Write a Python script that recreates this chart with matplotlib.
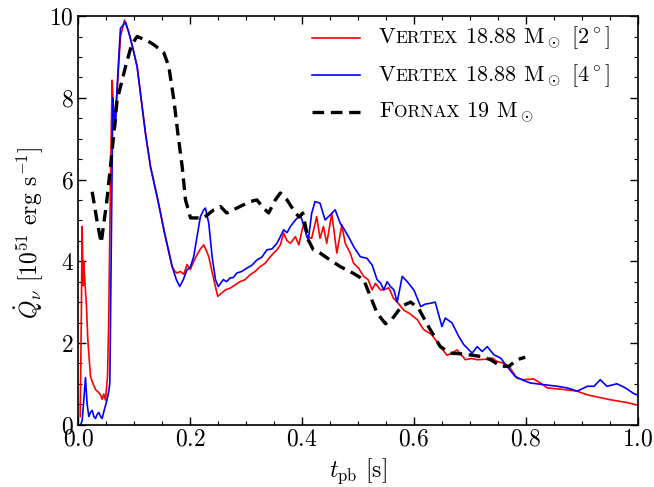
import numpy as np
import matplotlib
matplotlib.use('Agg')
import matplotlib.pyplot as plt
from matplotlib.ticker import AutoMinorLocator, MultipleLocator
from matplotlib.offsetbox import (AnchoredOffsetbox, DrawingArea, HPacker,
                                  TextArea, VPacker)
from matplotlib.lines import Line2D

plt.rcParams['font.family'] = 'serif'
plt.rcParams['font.serif'] = ['cmr10']
plt.rcParams['mathtext.fontset'] = 'cm'
plt.rcParams['axes.formatter.use_mathtext'] = True

##########
# Inputs #
##########

# Vertex 18.88 Msun, 2 degree
t_v2 = [0.003, 0.005, 0.0065, 0.0085, 0.0095, 0.011, 0.0143, 0.0167, 0.0215, 0.026,
        0.0304, 0.035, 0.0394, 0.0425, 0.0453, 0.0483, 0.052, 0.054, 0.0572, 0.0602,
        0.062, 0.0644, 0.0692, 0.0751, 0.0823, 0.09, 0.0975, 0.1049, 0.1198, 0.1288,
        0.1419, 0.1539, 0.1675, 0.1725, 0.1765, 0.182, 0.1884, 0.194, 0.2, 0.2063,
        0.212, 0.218, 0.224, 0.229, 0.233, 0.242, 0.249, 0.256, 0.263, 0.271,
        0.28, 0.289, 0.298, 0.307, 0.316, 0.325, 0.334, 0.343, 0.349, 0.355,
        0.361, 0.367, 0.373, 0.379, 0.388, 0.394, 0.40, 0.404, 0.408, 0.417,
        0.426, 0.432, 0.438, 0.444, 0.453, 0.462, 0.471, 0.477, 0.486, 0.492,
        0.501, 0.51, 0.518, 0.525, 0.531, 0.54, 0.546, 0.555, 0.563, 0.57,
        0.582, 0.591, 0.606, 0.617, 0.632, 0.647, 0.659, 0.668, 0.677, 0.692,
        0.703, 0.713, 0.727, 0.740, 0.748, 0.758, 0.770, 0.778, 0.784, 0.796,
        0.814, 0.826, 0.838, 0.853, 0.868, 0.892, 0.910, 0.927, 0.951, 0.981, 0.999]
q_v2 = [0.2, 2.5, 4.85, 3.4, 4.0, 3.6, 2.9, 2.08, 1.18, 1.0,
        0.86, 0.8, 0.73, 0.62, 0.75, 0.6, 1.2, 2.5, 6.0, 8.43,
        7.9, 7.38, 8.2, 9.5, 9.9, 9.6, 9.2, 8.76, 7.13, 6.31,
        5.5, 4.69, 3.87, 3.75, 3.71, 3.75, 3.68, 3.92, 3.8, 4.0,
        4.16, 4.3, 4.4, 4.25, 4.11, 3.55, 3.14, 3.22, 3.3, 3.34,
        3.42, 3.5, 3.55, 3.67, 3.75, 3.87, 3.95, 4.11, 4.2, 4.28,
        4.4, 4.69, 4.5, 4.44, 4.6, 4.4, 4.77, 4.93, 4.6, 4.56,
        5.09, 4.56, 4.85, 4.44, 5.17, 4.2, 4.89, 4.44, 4.2, 3.95,
        3.83, 3.63, 3.55, 3.3, 3.46, 3.3, 3.3, 3.35, 3.1, 3.0,
        2.8, 2.73, 2.57, 2.33, 2.2, 1.91, 1.7, 1.75, 1.83, 1.59,
        1.62, 1.59, 1.6, 1.63, 1.55, 1.51, 1.43, 1.26, 1.14, 1.1,
        1.12, 1.02, 0.9, 0.88, 0.86, 0.82, 0.73, 0.68, 0.61, 0.54, 0.48]

# Vertex 18.88 Msun, 4 degree
t_v4 = [0.004, 0.0066, 0.0095, 0.0125, 0.0155, 0.0185, 0.0215, 0.0245, 0.0275, 0.0304,
        0.0334, 0.0364, 0.0394, 0.0423, 0.0453, 0.05, 0.054, 0.0561, 0.0584, 0.0614,
        0.0635, 0.0662, 0.07, 0.0751, 0.0841, 0.09, 0.0975, 0.1049, 0.1198, 0.1288,
        0.1419, 0.1539, 0.1675, 0.175, 0.181, 0.1875, 0.194, 0.2, 0.206, 0.212,
        0.218, 0.224, 0.227, 0.233, 0.239, 0.245, 0.25, 0.259, 0.265, 0.271,
        0.277, 0.283, 0.292, 0.301, 0.31, 0.319, 0.328, 0.337, 0.346, 0.355,
        0.361, 0.367, 0.373, 0.379, 0.388, 0.397, 0.405, 0.411, 0.417, 0.423,
        0.432, 0.441, 0.45, 0.459, 0.468, 0.474, 0.483, 0.492, 0.504, 0.516,
        0.525, 0.534, 0.540, 0.546, 0.552, 0.558, 0.564, 0.570, 0.579, 0.588,
        0.600, 0.612, 0.62, 0.629, 0.638, 0.650, 0.656, 0.668, 0.680, 0.689,
        0.704, 0.713, 0.722, 0.731, 0.743, 0.755, 0.766, 0.781, 0.793, 0.808,
        0.832, 0.856, 0.874, 0.892, 0.910, 0.922, 0.933, 0.945, 0.963, 0.978, 0.993, 0.999]
q_v4 = [0.0, 0.1, 0.6, 1.15, 0.5, 0.2, 0.3, 0.35, 0.2, 0.15,
        0.25, 0.3, 0.2, 0.15, 0.32, 0.55, 0.8, 1.04, 4.0, 8.0,
        7.6, 7.3, 8.5, 9.7, 9.85, 9.6, 9.2, 8.76, 7.13, 6.31,
        5.5, 4.69, 3.87, 3.55, 3.38, 3.55, 3.79, 3.85, 4.11, 4.6,
        5.09, 5.26, 5.3, 4.93, 4.11, 3.55, 3.38, 3.55, 3.5, 3.59,
        3.6, 3.71, 3.75, 3.83, 3.9, 4.03, 4.1, 4.28, 4.3, 4.44,
        4.6, 4.77, 4.7, 4.85, 5.01, 5.13, 4.77, 4.52, 5.17, 5.46,
        5.42, 5.01, 5.13, 5.26, 4.93, 4.81, 4.6, 4.36, 4.11, 4.07,
        3.91, 3.55, 3.47, 3.3, 3.5, 3.38, 3.3, 3.0, 3.63, 3.5,
        3.29, 2.89, 2.95, 2.97, 3.0, 2.4, 2.61, 2.49, 2.16, 1.96,
        1.75, 1.91, 1.79, 1.91, 1.71, 1.63, 1.43, 1.18, 1.1, 1.02,
        0.98, 0.94, 0.9, 0.82, 0.94, 0.94, 1.1, 0.94, 1.0, 0.9, 0.76, 0.73]

# Fornax 19 Msun
t_fx = [0.0245, 0.033, 0.0406, 0.05, 0.0572, 0.0692, 0.0841, 0.095, 0.1049, 0.1228,
        0.1348, 0.1527, 0.1616, 0.1706, 0.1777, 0.1855, 0.1914, 0.2004, 0.224, 0.242,
        0.254, 0.265, 0.283, 0.307, 0.319, 0.331, 0.34, 0.352, 0.361, 0.373,
        0.388, 0.395, 0.401, 0.411, 0.42, 0.432, 0.45, 0.468, 0.492, 0.51,
        0.522, 0.534, 0.549, 0.56, 0.578, 0.594, 0.608, 0.626, 0.647, 0.665,
        0.689, 0.719, 0.737, 0.755, 0.770, 0.784, 0.799]
q_fx = [5.7, 5.0, 4.45, 5.4, 6.31, 7.95, 8.76, 9.3, 9.5, 9.4,
        9.3, 9.1, 8.76, 7.95, 7.13, 6.31, 5.5, 5.06, 5.06, 5.26,
        5.34, 5.18, 5.3, 5.46, 5.5, 5.3, 5.18, 5.5, 5.67, 5.5,
        5.18, 5.08, 5.18, 4.52, 4.28, 4.2, 4.03, 3.87, 3.7, 3.55,
        3.14, 2.73, 2.47, 2.57, 2.9, 3.0, 2.85, 2.4, 1.91, 1.75,
        1.73, 1.67, 1.59, 1.43, 1.43, 1.59, 1.65]

#############
# Make plot #
#############

fig = plt.figure(figsize=(6.54,4.87), dpi=100)
ax = fig.add_axes([0.120, 0.128, 0.855, 0.839])

ax.plot(t_v2, q_v2, color='r', lw=1.2)
ax.plot(t_v4, q_v4, color='b', lw=1.2)
ax.plot(t_fx, q_fx, color='k', lw=2.4, dashes=(3.5,2))

ax.set_xlim([0,1])
ax.set_ylim([0,10])
ax.xaxis.set_major_locator(MultipleLocator(0.2))
ax.yaxis.set_major_locator(MultipleLocator(2))
ax.xaxis.set_minor_locator(AutoMinorLocator(4))
ax.yaxis.set_minor_locator(AutoMinorLocator(4))
ax.tick_params('both', which='both', direction='in', top=True, right=True, labelsize=17)
ax.tick_params('both', length=6, width=1.0, which='major')
ax.tick_params('both', length=3, width=0.8, which='minor')
ax.tick_params('x', pad=3)
for s in ax.spines.values():
  s.set_linewidth(1.2)

ax.set_xlabel(r'$t_\mathrm{pb}$ [s]', fontsize=17, labelpad=4)
ax.set_ylabel(r'$\dot{Q}_\nu$ [$10^{51}$ erg s$^{-1}$]', fontsize=17)
ax.yaxis.set_label_coords(-0.058, 0.47)

# Legend with small caps code names
def legend_row(color, lw, dashes, word, rest):
  da = DrawingArea(34.5, 10, 0, 0)
  ln = Line2D([0,34.5], [5,5], color=color, lw=lw)
  if dashes is not None:
    ln.set_dashes(dashes)
  da.add_artist(ln)
  parts = [TextArea(word[0], textprops=dict(size=16)),
           TextArea(word[1:].upper(), textprops=dict(size=12.5)),
           TextArea(rest, textprops=dict(size=16))]
  txt = HPacker(children=parts, align='baseline', pad=0, sep=0)
  return HPacker(children=[da, txt], align='center', pad=0, sep=14)

rows = [legend_row('r', 1.2, None, 'Vertex', r' 18.88 $\mathrm{M}_\odot$ [$2^\circ$]'),
        legend_row('b', 1.2, None, 'Vertex', r' 18.88 $\mathrm{M}_\odot$ [$4^\circ$]'),
        legend_row('k', 2.4, (3.5,2), 'Fornax', r' 19 $\mathrm{M}_\odot$')]
box = VPacker(children=rows, align='left', pad=0, sep=8)
anch = AnchoredOffsetbox(loc='upper left', child=box, pad=0, borderpad=0, frameon=False,
                         bbox_to_anchor=(0.417, 0.98), bbox_transform=ax.transAxes)
ax.add_artist(anch)

plt.savefig('out.png', dpi=100)
plt.close()
